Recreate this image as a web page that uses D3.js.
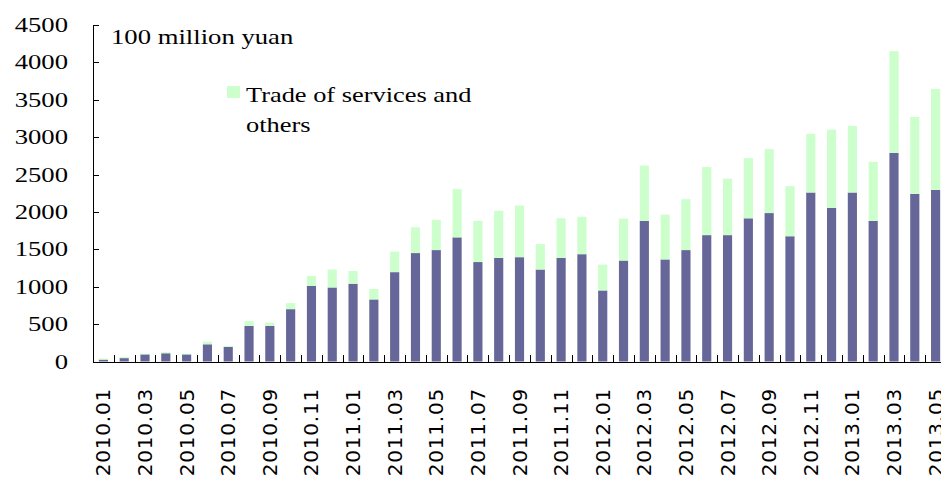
<!DOCTYPE html>
<html>
<head>
<meta charset="utf-8">
<script src="https://cdn.jsdelivr.net/npm/d3@7/dist/d3.min.js"></script>
<style>
  html, body { margin: 0; padding: 0; background: #fff; }
  svg { display: block; }
</style>
</head>
<body>
<svg id="chart" width="941" height="477"></svg>
<script>
const months = ["2010.01","2010.02","2010.03","2010.04","2010.05","2010.06","2010.07","2010.08","2010.09","2010.10","2010.11","2010.12",
  "2011.01","2011.02","2011.03","2011.04","2011.05","2011.06","2011.07","2011.08","2011.09","2011.10","2011.11","2011.12",
  "2012.01","2012.02","2012.03","2012.04","2012.05","2012.06","2012.07","2012.08","2012.09","2012.10","2012.11","2012.12",
  "2013.01","2013.02","2013.03","2013.04","2013.05"];
const goodsTrade = [25,45,95,110,95,230,195,475,475,700,1010,990,
  1040,830,1195,1450,1490,1660,1330,1385,1395,1230,1385,1435,
  950,1350,1880,1365,1490,1690,1690,1915,1985,1675,2260,2055,
  2260,1880,2790,2240,2295];
const servicesTrade = [15,15,10,15,10,35,15,65,45,80,135,240,
  170,140,275,345,405,645,550,630,690,340,530,500,
  345,560,740,600,680,910,755,805,855,670,785,1045,
  890,790,1360,1030,1350];
const yTicks = [0,500,1000,1500,2000,2500,3000,3500,4000,4500];
const unitLabel = "100 million yuan";
const legendLines = ["Trade of services and", "others"];

const svg = d3.select("#chart");
const pLeft = 93, pRight = 946, pTop = 25, pBottom = 361.5;

const x = d3.scaleBand().domain(months).range([pLeft, pRight]).paddingInner(0.56).paddingOuter(0.28);
const y = d3.scaleLinear().domain([0, 4500]).range([pBottom, pTop]);

const darkColor = "#666699", lightColor = "#ccffcc";

const rows = months.map((m, i) => ({ m, goods: goodsTrade[i], services: servicesTrade[i] }));
const stack = d3.stack().keys(["goods", "services"])(rows);
const colors = { goods: darkColor, services: lightColor };

svg.append("g").selectAll("g").data(stack).join("g")
  .attr("fill", d => colors[d.key])
  .selectAll("rect").data(d => d).join("rect")
  .attr("x", d => x(d.data.m))
  .attr("width", x.bandwidth())
  .attr("y", d => y(d[1]))
  .attr("height", d => y(d[0]) - y(d[1]));

// axes
const axG = svg.append("g").attr("stroke", "#000").attr("stroke-width", 1).attr("shape-rendering", "crispEdges");
axG.append("line").attr("x1", pLeft + 0.5).attr("x2", pLeft + 0.5).attr("y1", y(4500)).attr("y2", y(0));
axG.append("line").attr("x1", pLeft).attr("x2", pRight).attr("y1", y(0) + 0.5).attr("y2", y(0) + 0.5);
// y ticks (inward)
axG.selectAll(".yt").data(yTicks).join("line")
  .attr("x1", pLeft).attr("x2", pLeft + 6)
  .attr("y1", d => Math.round(y(d)) + 0.5).attr("y2", d => Math.round(y(d)) + 0.5);
// x ticks at category boundaries (inward)
const half = x.step() * x.paddingInner() / 2;
axG.selectAll(".xt").data(months).join("line")
  .attr("x1", d => Math.round(x(d) + x.bandwidth() + half) + 0.5)
  .attr("x2", d => Math.round(x(d) + x.bandwidth() + half) + 0.5)
  .attr("y1", y(0) - 7).attr("y2", y(0));

// y tick labels (serif, horizontally stretched)
svg.append("g").selectAll("text").data(yTicks).join("text")
  .attr("transform", d => `translate(68, ${y(d) + 7}) scale(1.27,1)`)
  .attr("text-anchor", "end")
  .attr("font-family", "Liberation Serif, Times New Roman, serif")
  .attr("font-size", 21)
  .attr("fill", "#000")
  .text(d => d);

// x labels every other month, rotated
svg.append("g").selectAll("text").data(months.filter((m, i) => i % 2 === 0)).join("text")
  .attr("transform", d => `translate(${x(d) + x.bandwidth() / 2 + 7}, 388) rotate(-90)`)
  .attr("text-anchor", "end")
  .attr("font-family", "DejaVu Sans, sans-serif")
  .attr("font-size", 20)
  .attr("letter-spacing", 0.8)
  .attr("fill", "#000")
  .text(d => d);

// unit label
svg.append("text")
  .attr("transform", "translate(111, 44) scale(1.27,1)")
  .attr("font-family", "Liberation Serif, Times New Roman, serif")
  .attr("font-size", 21)
  .attr("fill", "#000")
  .text(unitLabel);

// legend
svg.append("rect").attr("x", 227).attr("y", 86).attr("width", 13).attr("height", 12).attr("fill", lightColor);
svg.append("g").selectAll("text").data(legendLines).join("text")
  .attr("transform", (d, i) => `translate(246, ${102 + i * 30}) scale(1.2,1)`)
  .attr("font-family", "Liberation Serif, Times New Roman, serif")
  .attr("font-size", 22)
  .attr("fill", "#000")
  .text(d => d);
</script>
</body>
</html>
